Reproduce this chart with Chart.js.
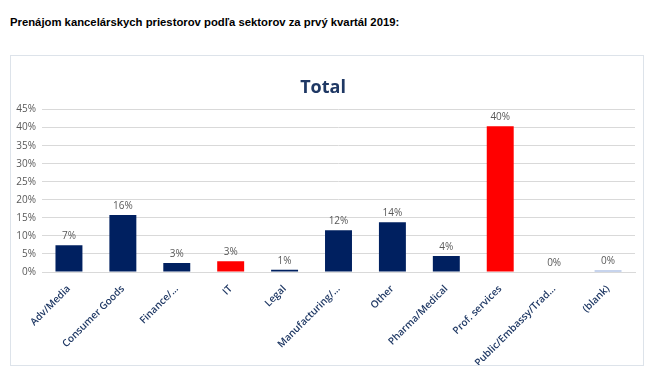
<!DOCTYPE html>
<html>
<head>
<meta charset="utf-8">
<script src="https://cdn.jsdelivr.net/npm/chart.js@4"></script>
<style>
  body { margin: 0; background: #fff; width: 655px; height: 382px; overflow: hidden; }
  #heading { position: absolute; left: 10px; top: 16px; font: bold 11.3px "Liberation Sans", Arial, sans-serif; color: #000; }
  #box { position: absolute; left: 10px; top: 55px; width: 632px; height: 309px; border: 1px solid #dde3ea; }
</style>
</head>
<body>
<div id="heading">Prenájom kancelárskych priestorov podľa sektorov za prvý kvartál 2019:</div>
<div id="box"><canvas id="chart" width="632" height="309"></canvas></div>
<script>
var categories = ['Adv/Media', 'Consumer Goods', 'Finance/…', 'IT', 'Legal', 'Manufacturing/…', 'Other', 'Pharma/Medical', 'Prof. services', 'Public/Embassy/Trad…', '(blank)'];
var shares = [7.4, 15.8, 2.5, 3.0, 0.6, 11.6, 13.8, 4.4, 40.4, 0, 0.4];
var barColors = ['#002060', '#002060', '#002060', '#FF0000', '#002060', '#002060', '#002060', '#002060', '#FF0000', '#002060', '#8FAADC'];
var yTicks = [0, 5, 10, 15, 20, 25, 30, 35, 40, 45];

// labels above each bar
var valueLabels = {
    id: 'valueLabels',
    afterDatasetsDraw(chart) {
        var ctx = chart.ctx;
        var meta = chart.getDatasetMeta(0);
        ctx.save();
        ctx.font = '10px "Open Sans", sans-serif';
        ctx.fillStyle = '#595959';
        ctx.textAlign = 'center';
        ctx.textBaseline = 'middle';
        meta.data.forEach((bar, i) => {
            ctx.fillText(Math.round(shares[i]) + '%', bar.x, bar.y - 9);
        });
        ctx.restore();
    }
};

new Chart(document.getElementById('chart'), {
    type: 'bar',
    data: {
        labels: categories,
        datasets: [{
            data: shares,
            backgroundColor: barColors,
            categoryPercentage: 1,
            barPercentage: 0.5
        }]
    },
    options: {
        responsive: false,
        animation: false,
        layout: { padding: { left: 0, right: 8, top: 0, bottom: 0 } },
        plugins: {
            legend: { display: false },
            tooltip: { enabled: false },
            title: {
                display: true,
                text: 'Total',
                color: '#1F3864',
                font: { family: 'Open Sans', size: 18, weight: 'bold' },
                padding: { top: 21, bottom: 11 }
            }
        },
        scales: {
            y: {
                min: 0,
                max: 45,
                afterBuildTicks(axis) { axis.ticks = yTicks.map(v => ({ value: v })); },
                afterFit(axis) { axis.width = 31; },
                border: { display: false },
                grid: { color: '#d9d9d9', drawTicks: false },
                ticks: {
                    padding: 6,
                    color: '#595959',
                    font: { family: 'Open Sans', size: 10 },
                    callback: v => v + '%'
                }
            },
            x: {
                afterFit(axis) { axis.height = 93; },
                border: { color: '#d9d9d9' },
                grid: { display: false },
                ticks: {
                    minRotation: 45,
                    maxRotation: 45,
                    autoSkip: false,
                    color: '#1F3864',
                    font: { family: 'Open Sans', size: 10, weight: '600' }
                }
            }
        }
    },
    plugins: [valueLabels]
});
</script>
</body>
</html>
